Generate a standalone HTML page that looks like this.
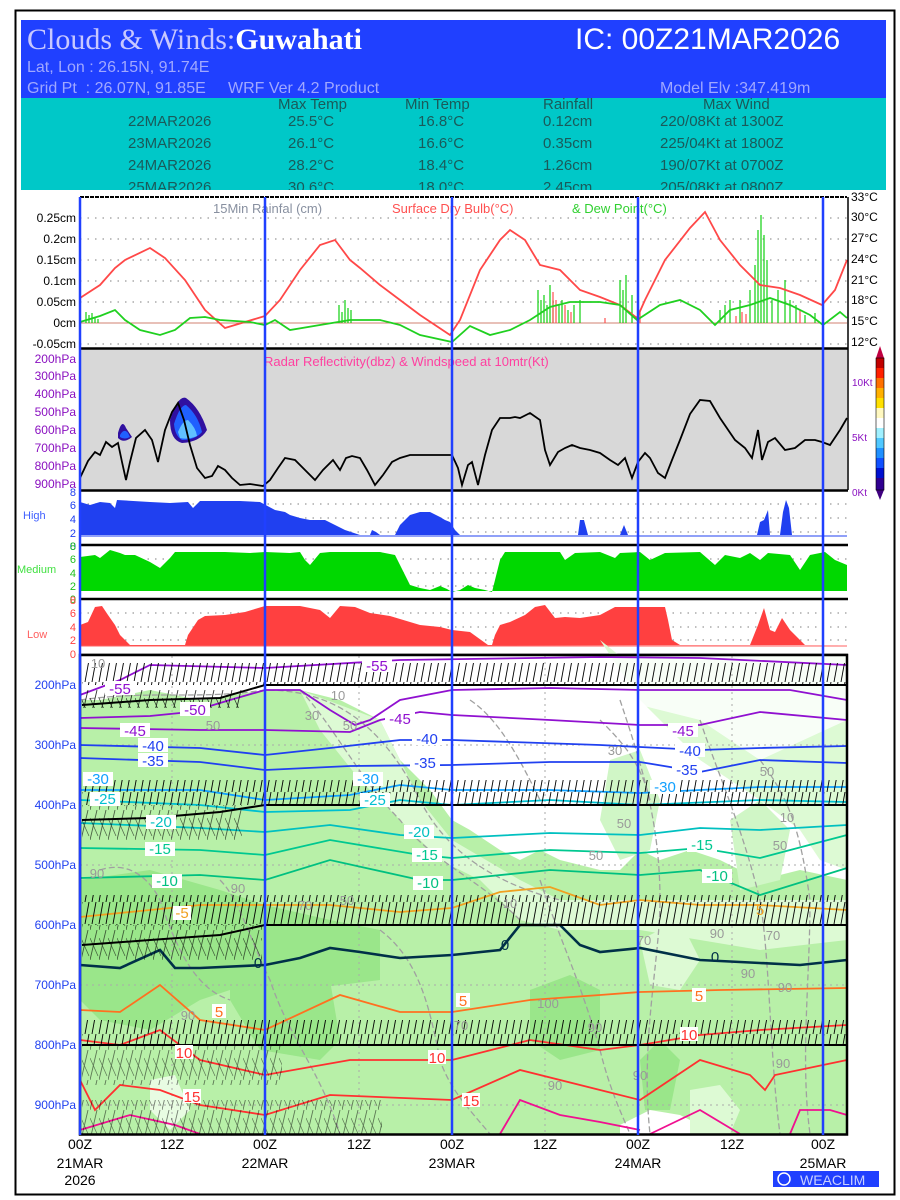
<!DOCTYPE html>
<html><head><meta charset="utf-8"><style>
html,body{margin:0;padding:0;background:#fff;}
svg{display:block;font-family:"Liberation Sans",sans-serif;}
</style></head><body>
<svg width="900" height="1200" viewBox="0 0 900 1200" xmlns="http://www.w3.org/2000/svg">
<defs>
<pattern id="barb" width="7" height="22" patternUnits="userSpaceOnUse">
<line x1="1" y1="22" x2="5" y2="0" stroke="#000" stroke-width="0.9"/>
</pattern>
<pattern id="barb2" width="9" height="30" patternUnits="userSpaceOnUse">
<line x1="0" y1="30" x2="7" y2="0" stroke="#000" stroke-width="0.9"/>
<line x1="0" y1="8" x2="8" y2="26" stroke="#000" stroke-width="0.7"/>
</pattern>
</defs>
<rect x="0" y="0" width="900" height="1200" fill="#fff"/>
<rect x="15.5" y="10.5" width="879" height="1184" fill="none" stroke="#000" stroke-width="2"/>
<!-- header -->
<rect x="21" y="20" width="865" height="78" fill="#2040ff"/>
<rect x="21" y="98" width="865" height="92" fill="#00c8c8"/>
<text x="27" y="49" font-family="Liberation Serif,serif" font-size="30" fill="#c8c8ff">Clouds &amp; Winds:<tspan fill="#fff" font-weight="bold">Guwahati</tspan></text>
<text x="575" y="49" font-size="30" fill="#fff">IC: 00Z21MAR2026</text>
<text x="27" y="72" font-size="16" fill="#a0a8ff">Lat, Lon : 26.15N, 91.74E</text>
<text x="27" y="93" font-size="16" fill="#a0a8ff" xml:space="preserve">Grid Pt  : 26.07N, 91.85E     WRF Ver 4.2 Product</text>
<text x="660" y="93" font-size="16" fill="#a0a8ff">Model Elv :347.419m</text>
<g font-size="15" fill="#1a5a5a">
<text x="278" y="109">Max Temp</text><text x="405" y="109">Min Temp</text><text x="543" y="109">Rainfall</text><text x="703" y="109">Max Wind</text>
<text x="128" y="126">22MAR2026</text><text x="288" y="126">25.5°C</text><text x="418" y="126">16.8°C</text><text x="543" y="126">0.12cm</text><text x="660" y="126">220/08Kt at 1300Z</text>
<text x="128" y="148">23MAR2026</text><text x="288" y="148">26.1°C</text><text x="418" y="148">16.6°C</text><text x="543" y="148">0.35cm</text><text x="660" y="148">225/04Kt at 1800Z</text>
<text x="128" y="170">24MAR2026</text><text x="288" y="170">28.2°C</text><text x="418" y="170">18.4°C</text><text x="543" y="170">1.26cm</text><text x="660" y="170">190/07Kt at 0700Z</text>
<text x="128" y="192">25MAR2026</text><text x="288" y="192">30.6°C</text><text x="418" y="192">18.0°C</text><text x="543" y="192">2.45cm</text><text x="660" y="192">205/08Kt at 0800Z</text>
</g>
<rect x="21" y="190" width="865" height="6" fill="#fff"/>

<!-- rainfall panel -->
<g stroke="#999" stroke-width="1.2" stroke-dasharray="1.5 6">
<line x1="80" y1="218" x2="847" y2="218"/><line x1="80" y1="239" x2="847" y2="239"/><line x1="80" y1="260" x2="847" y2="260"/><line x1="80" y1="281" x2="847" y2="281"/><line x1="80" y1="302" x2="847" y2="302"/><line x1="80" y1="344" x2="847" y2="344"/>
</g>
<line x1="80" y1="197" x2="847" y2="197" stroke="#000" stroke-width="2" stroke-dasharray="4 1"/>
<line x1="80" y1="323" x2="847" y2="323" stroke="#d08070" stroke-width="1"/>
<g font-size="12" fill="#000" text-anchor="end">
<text x="76" y="222">0.25cm</text><text x="76" y="243">0.2cm</text><text x="76" y="264">0.15cm</text><text x="76" y="285">0.1cm</text><text x="76" y="306">0.05cm</text><text x="76" y="327">0cm</text><text x="76" y="348">-0.05cm</text>
</g>
<g font-size="12" fill="#000">
<text x="851" y="201">33°C</text><text x="851" y="221">30°C</text><text x="851" y="242">27°C</text><text x="851" y="263">24°C</text><text x="851" y="284">21°C</text><text x="851" y="304">18°C</text><text x="851" y="325">15°C</text><text x="851" y="346">12°C</text>
</g>
<text x="213" y="213" font-size="13" fill="#8890a0">15Min Rainfal (cm)</text>
<text x="392" y="213" font-size="13" fill="#ff5050">Surface Dry Bulb(°C)</text>
<text x="572" y="213" font-size="13" fill="#30d030">&amp; Dew Point(°C)</text>
<g stroke="#10d010" stroke-width="1.2">
<path d="M86 323V312M89 323V315M92 323V313M95 323V317M98 323V319M339 323V305M342 323V312M345 323V300M348 323V308M351 323V310M538 323V290M541 323V300M544 323V295M547 323V305M550 323V285M553 323V300M559 323V305M562 323V300M568 323V310M574 323V305M580 323V300M620 323V280M623 323V290M626 323V275M632 323V295M638 323V285M720 323V310M725 323V305M730 323V300M740 323V300M750 323V290M755 323V265M758 323V230M761 323V215M764 323V235M767 323V260M772 323V300M778 323V290M785 323V280M790 323V300M796 323V305M805 323V315M815 323V313"/>
</g>
<g stroke="#ff5050" stroke-width="1.2"><path d="M553 323V292M556 323V300M565 323V305M571 323V312M605 323V318M640 323V310M736 323V316M742 323V312M746 323V314M800 323V310"/></g>
<polyline fill="none" stroke="#ff4848" stroke-width="1.8" points="80,298 100,285 115,268 125,260 150,248 165,258 185,280 205,310 225,328 245,322 265,316 280,300 300,270 320,245 335,240 350,260 360,268 380,285 400,300 420,315 450,335 460,320 480,270 500,240 510,230 525,240 540,265 560,270 580,290 600,297 620,305 637,318 645,300 665,260 690,228 705,212 720,240 740,265 760,285 780,288 800,295 822,305 835,290 847,260"/>
<polyline fill="none" stroke="#20d020" stroke-width="1.8" points="80,322 100,316 115,310 125,320 140,330 160,335 175,330 190,318 205,317 220,320 250,322 265,325 275,320 290,330 320,325 350,320 380,320 400,325 420,335 452,342 470,326 490,335 510,330 530,320 550,307 570,302 600,302 620,305 637,320 660,305 680,300 700,310 715,325 730,310 750,305 770,298 790,305 810,315 823,325 840,312 847,318"/>

<!-- radar panel -->
<rect x="80" y="349" width="767" height="141" fill="#d8d8d8"/>
<line x1="80" y1="348.5" x2="848" y2="348.5" stroke="#000" stroke-width="2.5"/>
<line x1="80" y1="490.5" x2="848" y2="490.5" stroke="#000" stroke-width="2.5"/>
<g font-size="12" fill="#8a10c0" text-anchor="end">
<text x="76" y="363">200hPa</text><text x="76" y="380">300hPa</text><text x="76" y="398">400hPa</text><text x="76" y="416">500hPa</text><text x="76" y="434">600hPa</text><text x="76" y="452">700hPa</text><text x="76" y="470">800hPa</text><text x="76" y="488">900hPa</text>
</g>
<g font-size="10" fill="#8a10c0"><text x="852" y="386">10Kt</text><text x="852" y="441">5Kt</text><text x="852" y="496">0Kt</text></g>
<text x="264" y="366" font-size="13" fill="#ff40a0">Radar Reflectivity(dbz) &amp; Windspeed at 10mtr(Kt)</text>
<path d="M118 433 Q122 418 126 428 L132 437 Q124 444 118 438Z" fill="#3010a0"/>
<path d="M120 435 Q124 428 128 433 L130 437 Q124 440 120 437Z" fill="#2060ff"/>
<path d="M170 420 Q178 395 186 398 Q200 408 207 430 Q200 442 182 443 Q170 440 170 420Z" fill="#3010a0"/>
<path d="M174 424 Q180 405 186 405 Q198 415 202 432 Q195 440 182 440 Q175 436 174 424Z" fill="#2060ff"/>
<path d="M178 432 Q183 420 188 420 Q196 428 197 436 Q188 440 180 438Z" fill="#60c0ff"/>
<polyline fill="none" stroke="#000" stroke-width="1.8" points="80,478 88,461 95,452 100,455 106,442 112,447 118,443 122,462 126,480 130,462 136,438 145,430 152,440 158,462 165,430 172,412 178,403 184,420 190,445 197,468 205,478 212,476 218,466 225,470 232,478 240,485 250,484 263,486 270,480 278,468 285,458 295,460 305,470 315,480 323,470 333,460 340,470 346,458 352,456 360,458 367,470 375,485 383,475 392,462 400,458 410,455 445,455 452,455 458,468 462,485 468,465 472,462 478,485 485,455 492,430 500,418 510,418 515,417 520,418 530,413 540,420 545,450 550,465 558,452 565,448 572,445 580,448 590,450 600,453 610,460 618,465 625,458 632,478 638,462 645,453 650,458 658,473 665,478 672,460 680,440 690,414 700,400 710,401 720,418 735,440 745,448 752,458 758,430 762,460 768,442 775,438 785,450 795,448 805,440 815,440 822,442 830,445 840,430 847,418"/>
<g>
<polygon points="876,358 880,346 884,358" fill="#c00040"/>
<rect x="876" y="358" width="8" height="10" fill="#c00000"/><rect x="876" y="368" width="8" height="10" fill="#ff2000"/><rect x="876" y="378" width="8" height="10" fill="#ff7000"/><rect x="876" y="388" width="8" height="10" fill="#ffb000"/><rect x="876" y="398" width="8" height="10" fill="#ffe000"/><rect x="876" y="408" width="8" height="10" fill="#fff8c0"/><rect x="876" y="418" width="8" height="10" fill="#ffffff"/><rect x="876" y="428" width="8" height="10" fill="#a0f0ff"/><rect x="876" y="438" width="8" height="10" fill="#50c8ff"/><rect x="876" y="448" width="8" height="10" fill="#2090ff"/><rect x="876" y="458" width="8" height="10" fill="#1050ff"/><rect x="876" y="468" width="8" height="10" fill="#0010d0"/><rect x="876" y="478" width="8" height="12" fill="#300090"/>
<polygon points="876,490 880,500 884,490" fill="#400080"/>
<rect x="876" y="358" width="8" height="132" fill="none" stroke="#000" stroke-width="0.6"/>
</g>

<g stroke="#999" stroke-width="1.2" stroke-dasharray="1.5 6">
<line x1="80" y1="504" x2="847" y2="504"/><line x1="80" y1="518" x2="847" y2="518"/><line x1="80" y1="532" x2="847" y2="532"/>
<line x1="80" y1="559" x2="847" y2="559"/><line x1="80" y1="573" x2="847" y2="573"/><line x1="80" y1="586" x2="847" y2="586"/>
<line x1="80" y1="613" x2="847" y2="613"/><line x1="80" y1="627" x2="847" y2="627"/><line x1="80" y1="640" x2="847" y2="640"/>
</g>
<polygon fill="#2040f0" points="80,535 80,502 90,505 100,502 110,503 115,508 117,500 150,502 170,503 188,502 193,508 200,501 240,501 260,502 275,510 285,512 290,515 300,518 310,520 325,520 335,525 345,530 360,535 370,535 372,530 376,532 380,535 395,535 400,525 410,515 420,512 430,512 440,517 445,520 450,522 455,530 460,535 578,535 580,520 584,520 588,535 620,535 624,525 628,535 757,535 760,522 764,520 768,510 770,535 780,535 783,512 786,500 789,508 792,535"/>
<line x1="80" y1="536" x2="847" y2="536" stroke="#2040f0" stroke-width="1"/>
<line x1="80" y1="545" x2="848" y2="545" stroke="#000" stroke-width="2.5"/>
<g font-size="11" fill="#2040f0" text-anchor="end"><text x="76" y="496">8</text><text x="76" y="509">6</text><text x="76" y="523">4</text><text x="76" y="537">2</text><text x="76" y="550">0</text></g>
<text x="23" y="519" font-size="11" fill="#4060ff">High</text>

<polygon fill="#00d800" points="80,591 80,557 95,555 100,558 110,550 120,553 125,555 135,555 150,562 160,568 170,558 175,552 225,552 250,553 265,552 290,553 300,552 305,560 310,565 320,553 330,552 380,552 395,555 405,575 410,585 420,588 430,590 440,586 447,589 452,592 460,590 468,585 475,588 485,590 492,592 500,560 505,552 560,552 565,560 575,553 600,552 615,558 620,553 640,552 650,560 665,553 700,552 715,565 725,555 740,558 750,553 760,560 768,553 790,555 800,570 810,555 825,552 835,560 847,565 847,591"/>
<line x1="80" y1="599" x2="848" y2="599" stroke="#000" stroke-width="2.5"/>
<g font-size="11" fill="#20c020" text-anchor="end"><text x="76" y="550">8</text><text x="76" y="563">6</text><text x="76" y="577">4</text><text x="76" y="590">2</text><text x="76" y="603">0</text></g>
<text x="17" y="573" font-size="11" fill="#40e040">Medium</text>

<polygon fill="#ff4040" points="80,646 80,625 88,622 95,607 102,606 108,615 115,625 120,635 130,645 185,645 188,635 198,620 205,616 225,615 245,612 265,606 300,606 320,610 330,618 340,606 355,607 370,613 390,616 420,625 440,627 452,630 470,632 488,645 492,645 495,635 500,625 510,622 525,615 535,607 545,605 555,618 565,617 580,618 600,615 615,607 665,607 668,620 672,640 680,645 750,645 758,625 764,608 770,630 775,632 782,618 790,630 800,640 805,645 847,645"/>
<line x1="80" y1="646" x2="847" y2="646" stroke="#ff6060" stroke-width="1"/>
<line x1="80" y1="655" x2="848" y2="655" stroke="#000" stroke-width="2.5"/>
<g font-size="11" fill="#ff4040" text-anchor="end"><text x="76" y="604">8</text><text x="76" y="617">6</text><text x="76" y="631">4</text><text x="76" y="644">2</text><text x="76" y="658">0</text></g>
<text x="27" y="638" font-size="11" fill="#ff6060">Low</text>

<!-- lower panel background -->
<rect x="80" y="656" width="767" height="478" fill="#b8f0a8"/>
<polygon fill="#ffffff" points="80,656 847,656 847,880 800,870 760,880 720,860 690,850 660,860 640,850 620,870 600,870 560,860 540,850 520,860 500,850 470,830 452,820 430,790 400,760 380,720 340,700 300,690 265,690 200,700 150,690 100,700 80,700"/>
<polygon fill="#ddfad4" points="300,690 380,720 420,800 452,840 520,880 560,900 620,900 700,900 760,900 847,900 847,940 760,950 700,940 640,930 600,930 560,930 520,920 480,880 440,860 400,820 360,780 320,730"/>
<polygon fill="#ddfad4" points="600,640 640,700 700,760 760,800 800,830 820,860 847,870 847,656 620,656"/>
<polygon fill="#ffffff" points="560,700 620,700 700,720 760,760 847,720 847,656 560,656" opacity="0.8"/>
<polygon fill="#d0f6c6" points="610,760 640,750 660,800 650,850 620,860 600,820"/>
<polygon fill="#d0f6c6" points="730,820 760,800 790,830 780,880 740,890"/>
<polygon fill="#9ae68a" points="80,880 150,870 220,890 265,905 330,920 380,930 380,980 300,990 260,980 200,1000 150,1030 100,1020 80,1000"/>
<polygon fill="#9ae68a" points="230,960 290,950 330,980 340,1040 320,1060 260,1050 230,1000"/>
<polygon fill="#9ae68a" points="530,990 570,975 600,990 600,1050 560,1060 530,1040"/>
<polygon fill="#9ae68a" points="640,1060 660,1040 680,1060 670,1110 645,1110"/>
<polygon fill="#ffffff" points="620,1125 650,1110 680,1115 700,1125 700,1134 620,1134"/>
<polygon fill="#e8fce2" points="150,1080 175,1075 190,1110 170,1130 150,1110"/>
<polygon fill="#ddfad4" points="690,1090 720,1085 740,1110 730,1134 690,1134"/>
<polygon fill="#ddfad4" points="640,940 680,920 700,960 680,990 650,985"/>
<g fill="none" stroke="#a0a0a0" stroke-width="1.3" stroke-dasharray="6 3">
<path d="M80 700 C150 690 200 700 265 690 C330 690 380 720 420 800 C440 840 480 880 560 900"/>
<path d="M300 690 C330 720 360 780 400 820 C430 860 480 880 520 920"/>
<path d="M100 870 C130 860 150 880 160 900 C180 960 200 990 230 1000"/>
<path d="M220 880 C240 900 250 940 270 980 C290 1040 320 1070 340 1134"/>
<path d="M380 930 C420 960 430 1010 440 1060 C450 1090 470 1110 490 1134"/>
<path d="M540 880 C560 940 580 980 600 1050 C610 1090 620 1110 630 1134"/>
<path d="M620 700 C640 760 660 820 660 900 C660 960 640 1040 650 1134"/>
<path d="M700 720 C720 780 740 820 760 900 C770 960 770 1060 780 1134"/>
<path d="M760 760 C790 800 800 830 810 900 C810 980 800 1060 810 1134"/>
<path d="M470 700 C500 720 520 760 540 800"/>
<path d="M600 720 C620 740 640 760 650 800"/>
</g>
<g stroke="#aaa" stroke-width="1" stroke-dasharray="2 4">
<line x1="80" y1="745" x2="847" y2="745"/><line x1="80" y1="865" x2="847" y2="865"/><line x1="80" y1="985" x2="847" y2="985"/><line x1="80" y1="1105" x2="847" y2="1105"/>
<line x1="172" y1="656" x2="172" y2="1134"/><line x1="359" y1="656" x2="359" y2="1134"/><line x1="545" y1="656" x2="545" y2="1134"/><line x1="732" y1="656" x2="732" y2="1134"/>
</g>
<g fill="none" stroke-width="1.8">
<polyline stroke="#9010d0" points="80,695 120,680 150,665 265,668 400,660 600,657 700,658 847,665"/>
<polyline stroke="#9010d0" points="80,718 150,716 190,712 230,700 265,690 300,690 330,710 355,725 370,720 400,700 452,690 550,688 640,690 720,690 790,690 847,700"/>
<polyline stroke="#9010d0" points="80,728 200,730 265,730 350,732 380,720 420,712 452,715 550,720 640,725 700,725 760,712 847,720"/>
<polyline stroke="#2040f0" points="80,745 200,748 265,755 330,748 400,740 452,740 600,745 700,750 760,748 847,746"/>
<polyline stroke="#2040f0" points="80,758 200,762 265,770 350,766 452,765 550,762 640,762 700,772 760,760 847,763"/>
<polyline stroke="#10a0ff" points="80,790 200,790 265,800 350,795 400,785 452,790 550,790 640,793 760,787 847,787"/>
<polyline stroke="#00c0d0" points="80,800 200,805 265,812 350,810 400,800 452,805 550,800 640,805 760,800 847,802"/>
<polyline stroke="#00c0c0" points="80,823 200,828 265,832 330,825 400,835 452,838 550,833 640,835 700,828 760,830 847,825"/>
<polyline stroke="#00c890" points="80,848 200,850 265,855 330,840 420,855 452,858 550,850 640,853 700,848 760,858 847,835"/>
<polyline stroke="#00c080" points="80,878 200,875 265,880 330,860 420,880 452,880 550,870 640,875 700,870 760,895 847,868"/>
<polyline stroke="#f0a020" points="80,917 150,910 200,905 265,905 330,905 400,912 452,908 500,892 550,887 600,905 640,900 700,905 760,905 847,910"/>
<polyline stroke="#003048" stroke-width="2.6" points="80,965 120,968 160,950 175,968 200,968 265,965 300,958 330,948 360,952 400,958 452,955 500,950 520,925 560,925 580,945 600,952 640,948 700,960 760,963 800,965 847,960"/>
<polyline stroke="#ff7020" points="80,1010 120,1012 160,985 200,1020 265,1030 340,995 400,1012 452,1012 530,1000 600,995 640,992 720,990 847,988"/>
<polyline stroke="#ff3030" points="80,1040 120,1045 160,1030 200,1060 265,1075 350,1060 452,1060 530,1040 600,1050 640,1045 700,1035 760,1030 847,1025"/>
<polyline stroke="#ff3030" points="80,1080 95,1110 120,1085 160,1090 200,1105 265,1115 330,1095 452,1100 520,1070 600,1090 640,1100 700,1060 750,1075 765,1090 775,1075 847,1060"/>
<polyline stroke="#f01090" points="80,1130 130,1115 175,1125 200,1134"/>
<polyline stroke="#f01090" points="500,1134 520,1100 560,1115 600,1122 640,1130"/>
<polyline stroke="#f01090" points="650,1134 700,1110 740,1134"/>
<polyline stroke="#f01090" points="790,1134 800,1110 830,1110 847,1115"/>
</g>
<rect x="82" y="663" width="765" height="22" fill="url(#barb)"/>
<rect x="82" y="780" width="765" height="25" fill="url(#barb)"/>
<rect x="82" y="895" width="765" height="30" fill="url(#barb)"/>
<rect x="82" y="1020" width="765" height="25" fill="url(#barb)"/>
<rect x="82" y="690" width="160" height="18" fill="url(#barb2)" opacity="0.8"/>
<rect x="82" y="805" width="160" height="35" fill="url(#barb2)" opacity="0.6"/>
<rect x="82" y="925" width="180" height="35" fill="url(#barb2)" opacity="0.6"/>
<rect x="82" y="1045" width="200" height="40" fill="url(#barb2)" opacity="0.5"/>
<rect x="82" y="1100" width="300" height="34" fill="url(#barb2)" opacity="0.5"/>
<g stroke="#000" stroke-width="2" fill="none">
<polyline points="82,705 150,700 220,698 265,685 847,685"/>
<polyline points="82,820 150,818 220,812 265,805 847,805"/>
<polyline points="82,945 150,940 220,935 265,925 847,925"/>
<polyline points="82,1045 847,1045"/>
</g>
<g font-size="15" text-anchor="middle">
<g fill="#9010d0"><rect x="362" y="658" width="30" height="14" fill="#fff"/><text x="377" y="671">-55</text>
<rect x="105" y="681" width="30" height="14" fill="#fff"/><text x="120" y="694">-55</text>
<rect x="180" y="702" width="30" height="14" fill="#fff"/><text x="195" y="715">-50</text>
<rect x="120" y="723" width="30" height="14" fill="#fff"/><text x="135" y="736">-45</text>
<rect x="385" y="711" width="30" height="14" fill="#fff"/><text x="400" y="724">-45</text>
<rect x="668" y="723" width="30" height="14" fill="#fff"/><text x="683" y="736">-45</text></g>
<g fill="#2040f0"><rect x="138" y="738" width="30" height="14" fill="#fff"/><text x="153" y="751">-40</text>
<rect x="412" y="731" width="30" height="14" fill="#fff"/><text x="427" y="744">-40</text>
<rect x="675" y="743" width="30" height="14" fill="#fff"/><text x="690" y="756">-40</text>
<rect x="138" y="753" width="30" height="14" fill="#fff"/><text x="153" y="766">-35</text>
<rect x="410" y="755" width="30" height="14" fill="#fff"/><text x="425" y="768">-35</text>
<rect x="672" y="762" width="30" height="14" fill="#fff"/><text x="687" y="775">-35</text></g>
<g fill="#10a0ff"><rect x="83" y="772" width="30" height="14" fill="#fff"/><text x="98" y="784">-30</text>
<rect x="353" y="772" width="30" height="14" fill="#fff"/><text x="368" y="784">-30</text>
<rect x="650" y="780" width="30" height="14" fill="#fff"/><text x="665" y="792">-30</text></g>
<g fill="#00c0d0"><rect x="90" y="792" width="30" height="14" fill="#fff"/><text x="105" y="804">-25</text>
<rect x="360" y="793" width="30" height="14" fill="#fff"/><text x="375" y="805">-25</text></g>
<g fill="#00c0c0"><rect x="146" y="815" width="30" height="14" fill="#fff"/><text x="161" y="827">-20</text>
<rect x="404" y="825" width="30" height="14" fill="#fff"/><text x="419" y="837">-20</text></g>
<g fill="#00c890"><rect x="145" y="842" width="30" height="14" fill="#fff"/><text x="160" y="854">-15</text>
<rect x="412" y="848" width="30" height="14" fill="#fff"/><text x="427" y="860">-15</text>
<rect x="687" y="838" width="30" height="14" fill="#fff"/><text x="702" y="850">-15</text></g>
<g fill="#00c080"><rect x="152" y="874" width="30" height="14" fill="#fff"/><text x="167" y="886">-10</text>
<rect x="413" y="876" width="30" height="14" fill="#fff"/><text x="428" y="888">-10</text>
<rect x="702" y="869" width="30" height="14" fill="#fff"/><text x="717" y="881">-10</text></g>
<g fill="#f0a020"><rect x="173" y="906" width="18" height="14" fill="#fff"/><text x="182" y="918">-5</text><text x="760" y="915">5</text></g>
<g fill="#003048"><text x="258" y="968">0</text><text x="505" y="950">0</text><text x="715" y="962">0</text></g>
<g fill="#ff7020"><rect x="212" y="1004" width="14" height="14" fill="#fff"/><text x="219" y="1017">5</text>
<rect x="456" y="993" width="14" height="14" fill="#fff"/><text x="463" y="1006">5</text>
<rect x="692" y="988" width="14" height="14" fill="#fff"/><text x="699" y="1001">5</text></g>
<g fill="#ff3030"><rect x="175" y="1045" width="18" height="14" fill="#fff"/><text x="184" y="1058">10</text>
<rect x="428" y="1050" width="18" height="14" fill="#fff"/><text x="437" y="1063">10</text>
<rect x="680" y="1027" width="18" height="14" fill="#fff"/><text x="689" y="1040">10</text>
<rect x="183" y="1089" width="18" height="14" fill="#fff"/><text x="192" y="1102">15</text>
<rect x="462" y="1093" width="18" height="14" fill="#fff"/><text x="471" y="1106">15</text></g>
</g>
<g font-size="13" fill="#999" text-anchor="middle">
<text x="98" y="668">10</text><text x="338" y="700">10</text><text x="312" y="720">30</text><text x="213" y="730">50</text><text x="350" y="730">50</text><text x="97" y="878">90</text><text x="238" y="893">90</text><text x="305" y="910">70</text><text x="347" y="905">50</text><text x="188" y="1020">90</text><text x="548" y="1008">100</text><text x="595" y="1032">90</text><text x="461" y="1030">70</text><text x="640" y="1080">90</text><text x="717" y="938">90</text><text x="748" y="978">90</text><text x="785" y="992">90</text><text x="783" y="1068">90</text><text x="555" y="1090">90</text><text x="644" y="945">70</text><text x="596" y="860">50</text><text x="510" y="908">10</text><text x="773" y="940">70</text><text x="787" y="822">10</text><text x="767" y="776">50</text><text x="615" y="755">30</text><text x="624" y="828">50</text><text x="780" y="850">50</text></g>
<g font-size="12" fill="#2040f0" text-anchor="end">
<text x="76" y="689">200hPa</text><text x="76" y="749">300hPa</text><text x="76" y="809">400hPa</text><text x="76" y="869">500hPa</text><text x="76" y="929">600hPa</text><text x="76" y="989">700hPa</text><text x="76" y="1049">800hPa</text><text x="76" y="1109">900hPa</text>
</g>
<rect x="80" y="655" width="767" height="479.5" fill="none" stroke="#000" stroke-width="2.5"/>
<g stroke="#2040ff" stroke-width="2.5">
<line x1="80" y1="197" x2="80" y2="1135"/><line x1="265" y1="197" x2="265" y2="1135"/><line x1="452" y1="197" x2="452" y2="1135"/><line x1="638" y1="197" x2="638" y2="1135"/><line x1="823" y1="197" x2="823" y2="1135"/>
</g>
<line x1="848" y1="197" x2="848" y2="490" stroke="#000" stroke-width="1.5"/>
<g font-size="14" fill="#000" text-anchor="middle">
<text x="80" y="1149">00Z</text><text x="172" y="1149">12Z</text><text x="265" y="1149">00Z</text><text x="359" y="1149">12Z</text><text x="452" y="1149">00Z</text><text x="545" y="1149">12Z</text><text x="638" y="1149">00Z</text><text x="732" y="1149">12Z</text><text x="823" y="1149">00Z</text>
<text x="80" y="1168">21MAR</text><text x="80" y="1185">2026</text><text x="265" y="1168">22MAR</text><text x="452" y="1168">23MAR</text><text x="638" y="1168">24MAR</text><text x="823" y="1168">25MAR</text>
</g>
<rect x="773" y="1171" width="106" height="16" fill="#2040ff"/>
<circle cx="784" cy="1179" r="6" fill="none" stroke="#fff" stroke-width="1.5"/>
<text x="800" y="1185" font-size="14" fill="#c8d0ff">WEACLIM</text>
</svg>
</body></html>
